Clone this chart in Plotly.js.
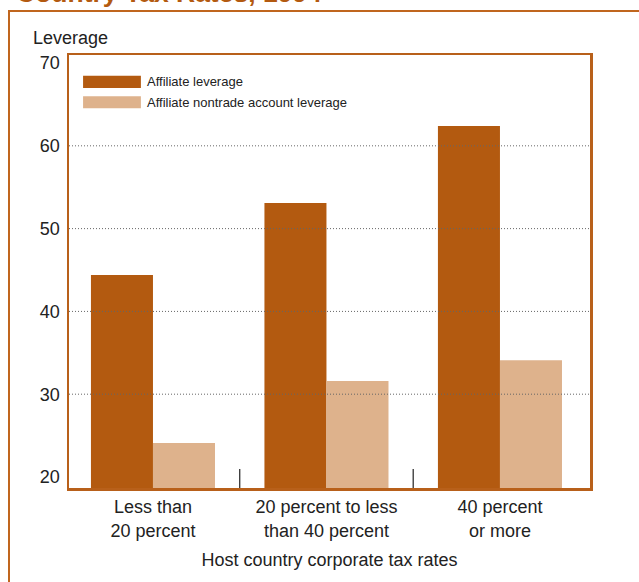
<!DOCTYPE html>
<html>
<head>
<meta charset="utf-8">
<script src="https://cdn.plot.ly/plotly-3.0.1.min.js"></script>
<style>
  html, body { margin: 0; padding: 0; background: #fff; overflow: hidden; }
  #frame { position: absolute; left: 8px; top: 10px; width: 700px; height: 700px;
           border: 2.5px solid #c0661e; box-sizing: border-box; }
  #chart { position: absolute; left: 0; top: 0; width: 639px; height: 582px; }
</style>
</head>
<body>
<div id="frame"></div>
<div id="chart"></div>
<script>
const categories = ["Less than<br>20 percent", "20 percent to less<br>than 40 percent", "40 percent<br>or more"];
const seriesNames = ["Affiliate leverage", "Affiliate nontrade account leverage"];
const affiliateLeverage = [44.4, 53.1, 62.4];
const nontradeLeverage = [24.1, 31.6, 34.1];
const seriesColors = ["#b35a10", "#deb28c"];
const yTicks = [20, 30, 40, 50, 60, 70];
const gridValues = [30, 40, 50, 60];

const xIdx = categories.map((c, i) => i);
const FONT = "Liberation Sans, Arial, sans-serif";

const traces = [
  { type: "bar", name: seriesNames[0], x: xIdx, y: affiliateLeverage,
    marker: { color: seriesColors[0] }, showlegend: false, hoverinfo: "y" },
  { type: "bar", name: seriesNames[1], x: xIdx, y: nontradeLeverage,
    marker: { color: seriesColors[1] }, showlegend: false, hoverinfo: "y" }
];

const shapes = [];
gridValues.forEach(v => shapes.push({
  type: "line", layer: "above", xref: "paper", yref: "y", x0: 0, x1: 1, y0: v, y1: v,
  line: { color: "#666", width: 1, dash: "1px,2px" }
}));
for (let i = 0; i < categories.length - 1; i++) {
  shapes.push({ type: "line", layer: "above", xref: "x", yref: "paper",
    x0: i + 0.5, x1: i + 0.5, y0: 0, y1: 0.044, line: { color: "#333", width: 1.3 } });
}
// legend swatches
const legY = [0.938, 0.891];
seriesNames.forEach((n, i) => {
  shapes.push({ type: "rect", xref: "paper", yref: "paper", layer: "above",
    x0: 0.027, x1: 0.138, y0: legY[i] - 0.014, y1: legY[i] + 0.014,
    fillcolor: seriesColors[i], line: { width: 0 } });
});

const annotations = [
  { text: "Country Tax Rates, 1994", xref: "paper", yref: "paper", x: 0, y: 1,
    xanchor: "left", yanchor: "bottom", xshift: -55, yshift: 45, showarrow: false,
    font: { family: FONT, size: 26.5, color: "#b35a10", weight: 700 } },
  { text: "Leverage", xref: "paper", yref: "paper", x: 0, y: 1,
    xanchor: "left", yanchor: "bottom", xshift: -38, yshift: 5, showarrow: false,
    font: { family: FONT, size: 18, color: "#222" } }
];
seriesNames.forEach((n, i) => {
  annotations.push({ text: n, xref: "paper", yref: "paper", x: 0.145, y: legY[i],
    xanchor: "left", yanchor: "middle", showarrow: false,
    font: { family: FONT, size: 13, color: "#222" } });
});

const layout = {
  width: 639, height: 582,
  margin: { l: 69, r: 49, t: 55, b: 94, pad: 0 },
  paper_bgcolor: "rgba(0,0,0,0)",
  plot_bgcolor: "#fff",
  barmode: "group",
  bargap: 0.285,
  bargroupgap: 0,
  showlegend: false,
  font: { family: FONT, size: 18, color: "#222" },
  xaxis: {
    range: [-0.484, 2.519],
    tickmode: "array", tickvals: xIdx, ticktext: categories,
    ticks: "", showgrid: false, zeroline: false,
    showline: true, mirror: true, linecolor: "#b8601a", linewidth: 2.5,
    tickfont: { size: 18, color: "#222" },
    ticklabelstandoff: 1,
    title: { text: "Host country corporate tax rates", font: { size: 18, color: "#222" }, standoff: 14 }
  },
  yaxis: {
    range: [18.67, 70.97],
    tickmode: "array", tickvals: yTicks,
    ticks: "", showgrid: false, zeroline: false,
    showline: true, mirror: true, linecolor: "#b8601a", linewidth: 2.5,
    tickfont: { size: 18, color: "#222" },
    ticklabelstandoff: 3
  },
  shapes: shapes,
  annotations: annotations
};

Plotly.newPlot("chart", traces, layout, { displayModeBar: false, staticPlot: true });
</script>
</body>
</html>
